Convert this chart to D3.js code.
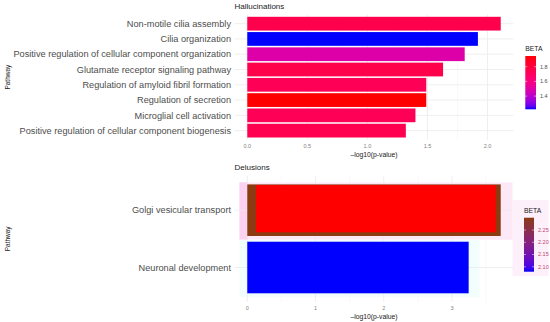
<!DOCTYPE html>
<html>
<head>
<meta charset="utf-8">
<script src="https://cdn.jsdelivr.net/npm/d3@7"></script>
<style>
  body { margin: 0; background: #fff; }
  text { font-family: "Liberation Sans", Arial, sans-serif; }
</style>
</head>
<body>
<div id="chart"></div>
<script>
const width = 550,
  height = 322;

// Hallucinations panel
const hallPathways = [
  "Non-motile cilia assembly",
  "Cilia organization",
  "Positive regulation of cellular component organization",
  "Glutamate receptor signaling pathway",
  "Regulation of amyloid fibril formation",
  "Regulation of secretion",
  "Microglial cell activation",
  "Positive regulation of cellular component biogenesis"
];
const hallLogP = [2.11, 1.92, 1.81, 1.63, 1.49, 1.49, 1.40, 1.32];
const hallBeta = [1.75, 1.22, 1.49, 1.76, 1.72, 1.946, 1.72, 1.74];
const hallTicks = [0, 0.5, 1, 1.5, 2];
const hallLegendTicks = [1.4, 1.6, 1.8];

// Delusions panel
const delPathways = ["Golgi vesicular transport", "Neuronal development"];
const delLogP = [3.715, 3.245];
const delBeta = [2.30, 2.08];
const delTicks = [0, 1, 2, 3];
const delLegendTicks = [2.10, 2.15, 2.20, 2.25];
// red fill drawn over the Golgi bar in the original figure
const delOverlayPathway = ["Golgi vesicular transport"];
const delOverlayFrom = [0.128];
const delOverlayTo = [3.642];

const svg = d3.select("#chart")
  .append("svg")
  .attr("width", width)
  .attr("height", height);

const defs = svg.append("defs");

function drawPanel(cfg) {
  const pad = d3.max(cfg.values) * 0.05;
  const x = d3.scaleLinear()
    .domain([-pad, d3.max(cfg.values) + pad])
    .range([234.6, 513.4]);
  const y = d3.scaleBand()
    .domain(cfg.pathways)
    .range([cfg.top, cfg.bottom])
    .paddingInner(0.1)
    .paddingOuter(0.15);
  const fill = d3.scaleLinear()
    .domain(cfg.betaDomain)
    .range([cfg.low, cfg.high])
    .interpolate(cfg.interp);

  const g = svg.append("g");

  if (cfg.backdrop) cfg.backdrop(g, x, y);

  // minor grid
  const minor = d3.range(0, cfg.ticks.length).map(i => cfg.ticks[0] + (i + 0.5) * (cfg.ticks[1] - cfg.ticks[0]))
    .filter(v => x(v) < 513.4);
  g.selectAll(".minor")
    .data(minor)
    .enter()
    .append("line")
    .attr("x1", d => x(d)).attr("x2", d => x(d))
    .attr("y1", cfg.top).attr("y2", cfg.bottom)
    .attr("stroke", "#f2f2f2")
    .attr("stroke-width", 0.5);

  // major grid
  g.selectAll(".major")
    .data(cfg.ticks)
    .enter()
    .append("line")
    .attr("x1", d => x(d)).attr("x2", d => x(d))
    .attr("y1", cfg.top).attr("y2", cfg.bottom)
    .attr("stroke", "#ebebeb")
    .attr("stroke-width", 0.8);

  g.selectAll(".hgrid")
    .data(cfg.pathways)
    .enter()
    .append("line")
    .attr("x1", 234.6).attr("x2", 513.4)
    .attr("y1", d => y(d) + y.bandwidth() / 2)
    .attr("y2", d => y(d) + y.bandwidth() / 2)
    .attr("stroke", "#ebebeb")
    .attr("stroke-width", 0.8);

  // bars
  g.selectAll(".bar")
    .data(cfg.pathways)
    .enter()
    .append("rect")
    .attr("x", x(0))
    .attr("y", d => y(d))
    .attr("width", (d, i) => x(cfg.values[i]) - x(0))
    .attr("height", y.bandwidth())
    .attr("fill", (d, i) => fill(cfg.beta[i]));

  if (cfg.overlay) cfg.overlay(g, x, y);

  // y labels
  g.selectAll(".ylab")
    .data(cfg.pathways)
    .enter()
    .append("text")
    .attr("x", 231)
    .attr("y", d => y(d) + y.bandwidth() / 2)
    .attr("dy", "0.35em")
    .attr("text-anchor", "end")
    .attr("font-size", 9.2)
    .attr("fill", "#4d4d4d")
    .text(d => d);

  // x tick labels
  g.selectAll(".xlab")
    .data(cfg.ticks)
    .enter()
    .append("text")
    .attr("x", d => x(d))
    .attr("y", cfg.bottom + 8)
    .attr("text-anchor", "middle")
    .attr("font-size", 5.5)
    .attr("fill", "#7f7f7f")
    .text(d => cfg.tickFormat(d));

  g.append("text")
    .attr("x", (234.6 + 513.4) / 2)
    .attr("y", cfg.bottom + 17.5)
    .attr("text-anchor", "middle")
    .attr("font-size", 6.8)
    .attr("fill", "#1a1a1a")
    .text("\u2013log10(p-value)");

  g.append("text")
    .attr("x", 234.5)
    .attr("y", cfg.top - 5.5)
    .attr("font-size", 8)
    .attr("fill", "#1a1a1a")
    .text(cfg.title);

  g.append("text")
    .attr("transform", `translate(9.5,${(cfg.top + cfg.bottom) / 2}) rotate(-90)`)
    .attr("text-anchor", "middle")
    .attr("font-size", 6.5)
    .attr("fill", "#1a1a1a")
    .text("Pathway");

  // legend colorbar
  const lg = cfg.legend;
  const ly = d3.scaleLinear().domain(cfg.betaDomain).range([lg.y1, lg.y0]);
  const gradId = "grad" + cfg.title;
  const grad = defs.append("linearGradient")
    .attr("id", gradId)
    .attr("x1", 0).attr("x2", 0).attr("y1", 1).attr("y2", 0);
  grad.selectAll("stop")
    .data(d3.range(0, 1.0001, 0.05))
    .enter()
    .append("stop")
    .attr("offset", d => d)
    .attr("stop-color", d => fill(cfg.betaDomain[0] + d * (cfg.betaDomain[1] - cfg.betaDomain[0])));

  g.append("text")
    .attr("x", lg.x0)
    .attr("y", lg.y0 - 5)
    .attr("font-size", 6.8)
    .attr("fill", "#1a1a1a")
    .text("BETA");

  g.append("rect")
    .attr("x", lg.x0).attr("y", lg.y0)
    .attr("width", lg.x1 - lg.x0).attr("height", lg.y1 - lg.y0)
    .attr("fill", `url(#${gradId})`);

  g.selectAll(".ltick")
    .data(cfg.legendTicks)
    .enter()
    .append("g")
    .each(function(d) {
      const t = d3.select(this);
      t.append("line")
        .attr("x1", lg.x0).attr("x2", lg.x0 + 2)
        .attr("y1", ly(d)).attr("y2", ly(d))
        .attr("stroke", "#fff").attr("stroke-width", 0.5);
      t.append("line")
        .attr("x1", lg.x1 - 2).attr("x2", lg.x1)
        .attr("y1", ly(d)).attr("y2", ly(d))
        .attr("stroke", "#fff").attr("stroke-width", 0.5);
      t.append("text")
        .attr("x", lg.x1 + 4)
        .attr("y", ly(d))
        .attr("dy", "0.35em")
        .attr("font-size", 5.5)
        .attr("fill", lg.labelColor)
        .text(cfg.legendFormat(d));
    });
}

drawPanel({
  title: "Hallucinations",
  pathways: hallPathways,
  values: hallLogP,
  beta: hallBeta,
  ticks: hallTicks,
  tickFormat: d3.format(".1f"),
  betaDomain: [1.22, 1.946],
  low: "#0000ff",
  high: "#ff0000",
  interp: d3.interpolateHcl,
  top: 14.5,
  bottom: 139.8,
  legendTicks: hallLegendTicks,
  legendFormat: d3.format(".1f"),
  legend: { x0: 525.3, x1: 536, y0: 56, y1: 109.3, labelColor: "#4d4d4d" }
});

drawPanel({
  title: "Delusions",
  pathways: delPathways,
  values: delLogP,
  beta: delBeta,
  ticks: delTicks,
  tickFormat: d3.format("d"),
  betaDomain: [2.08, 2.30],
  low: "#0000ff",
  high: "#8b3a12",
  interp: d3.interpolateLab,
  top: 175.8,
  bottom: 301.9,
  legendTicks: delLegendTicks,
  legendFormat: d3.format(".2f"),
  legend: { x0: 524, x1: 534, y0: 217.7, y1: 271.7, labelColor: "#c0436e" },
  backdrop: (g, x, y) => {
    // pale tinted bands behind the rows and the legend
    g.append("rect")
      .attr("x", 239.5).attr("y", y(delPathways[0]) - 2)
      .attr("width", 273).attr("height", y.step())
      .attr("fill", "#fde8f8");
    g.append("rect")
      .attr("x", 239.5).attr("y", y(delPathways[0]) - 2)
      .attr("width", 7.8).attr("height", y.step())
      .attr("fill", "#fcd2f1");
    g.append("rect")
      .attr("x", 239.5).attr("y", y(delPathways[1]) - 2)
      .attr("width", 240).attr("height", y.step())
      .attr("fill", "#f2fefe");
    g.append("rect")
      .attr("x", 512.5).attr("y", 200)
      .attr("width", 36).attr("height", 76)
      .attr("fill", "#fdf0fa");
  },
  overlay: (g, x, y) => {
    g.selectAll(".overlay")
      .data(delOverlayPathway)
      .enter()
      .append("rect")
      .attr("x", (d, i) => x(delOverlayFrom[i]))
      .attr("y", d => y(d) + 0.7)
      .attr("width", (d, i) => x(delOverlayTo[i]) - x(delOverlayFrom[i]))
      .attr("height", y.bandwidth() - 4.4)
      .attr("fill", "#ff0000");
  }
});
</script>
</body>
</html>
